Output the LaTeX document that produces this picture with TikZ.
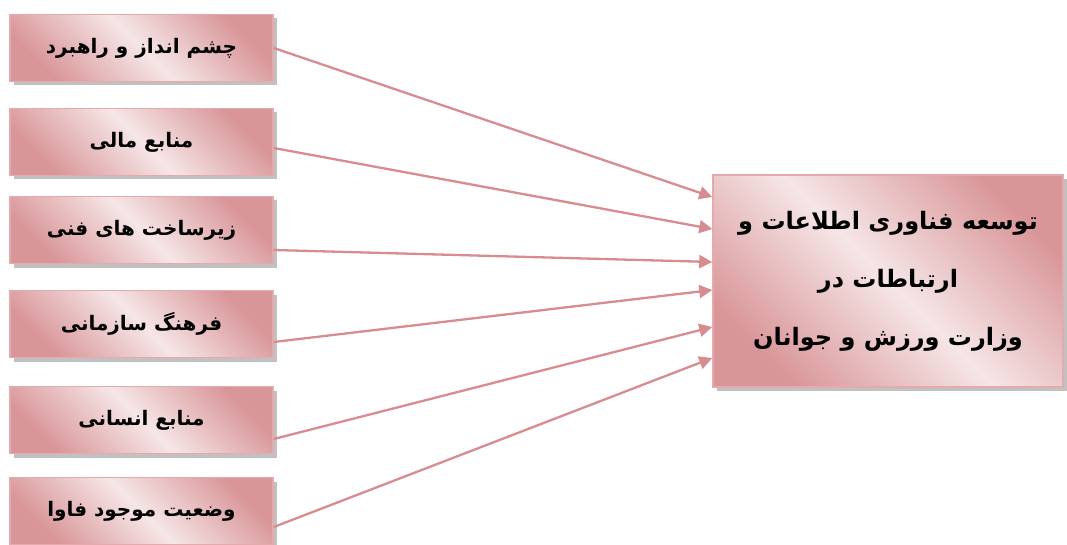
\documentclass[tikz,border=0pt]{standalone}
\usepackage{fontspec}
\usepackage{tikz}
\usetikzlibrary{arrows.meta}
\usetikzlibrary{shadows}
\TeXXeTstate=1
\newfontfamily\arabicfont[Script=Arabic]{DejaVu Sans}
\definecolor{rosedark}{RGB}{217,150,153}
\definecolor{roselight}{RGB}{246,230,231}
\definecolor{roseline}{RGB}{229,170,172}
\definecolor{rosearrow}{RGB}{216,140,143}

\begin{document}
\begin{tikzpicture}[x=1pt,y=-1pt]
  \tikzstyle{box} = [draw=roseline,line width=1.5pt,left color=rosedark,right color=rosedark,
    middle color=roselight,shading angle=-45,
    drop shadow={shadow xshift=4pt,shadow yshift=-4pt,fill=gray!70,opacity=.7},
    inner sep=4pt,align=center,font=\arabicfont\bfseries]
  \tikzstyle{src} = [box,minimum width=263pt,minimum height=67pt,font=\arabicfont\bfseries\fontsize{20}{24}\selectfont]
  \tikzstyle{dst} = [box,minimum width=350pt,minimum height=212pt,font=\arabicfont\bfseries\fontsize{24}{58}\selectfont]
  \tikzstyle{Arr} = [draw=rosearrow,line width=2.3pt,-{Stealth[length=13pt,width=13pt,inset=0pt]}]
  \useasboundingbox (0,0) rectangle (1067,545);
  %%
  \node[src] (vision)  at (141.5,48)  {\beginR چشم انداز و راهبرد\endR};
  \node[src] (finance) at (141.5,142) {\beginR منابع مالی\endR};
  \node[src] (infra)   at (141.5,230) {\beginR زیرساخت های فنی\endR};
  \node[src] (culture) at (141.5,324) {\beginR فرهنگ سازمانی\endR};
  \node[src] (human)   at (141.5,420) {\beginR منابع انسانی\endR};
  \node[src] (status)  at (141.5,511) {\beginR وضعیت موجود فاوا\endR};
  %%
  \node[dst] (itdev) at (888,281) {\beginR توسعه فناوری اطلاعات و\endR\\
    \beginR ارتباطات در\endR\\ \beginR وزارت ورزش و جوانان\endR};
  %%
  \path [Arr] (vision.east) to ([yshift=84pt]itdev.west);
  \path [Arr] ([yshift=-6pt]finance.east) to ([yshift=52pt]itdev.west);
  \path [Arr] ([yshift=-20pt]infra.east) to ([yshift=19pt]itdev.west);
  \path [Arr] ([yshift=-18pt]culture.east) to ([yshift=-9pt]itdev.west);
  \path [Arr] ([yshift=-19pt]human.east) to ([yshift=-46pt]itdev.west);
  \path [Arr] ([yshift=-16pt]status.east) to ([yshift=-77pt]itdev.west);
\end{tikzpicture}
\end{document}
